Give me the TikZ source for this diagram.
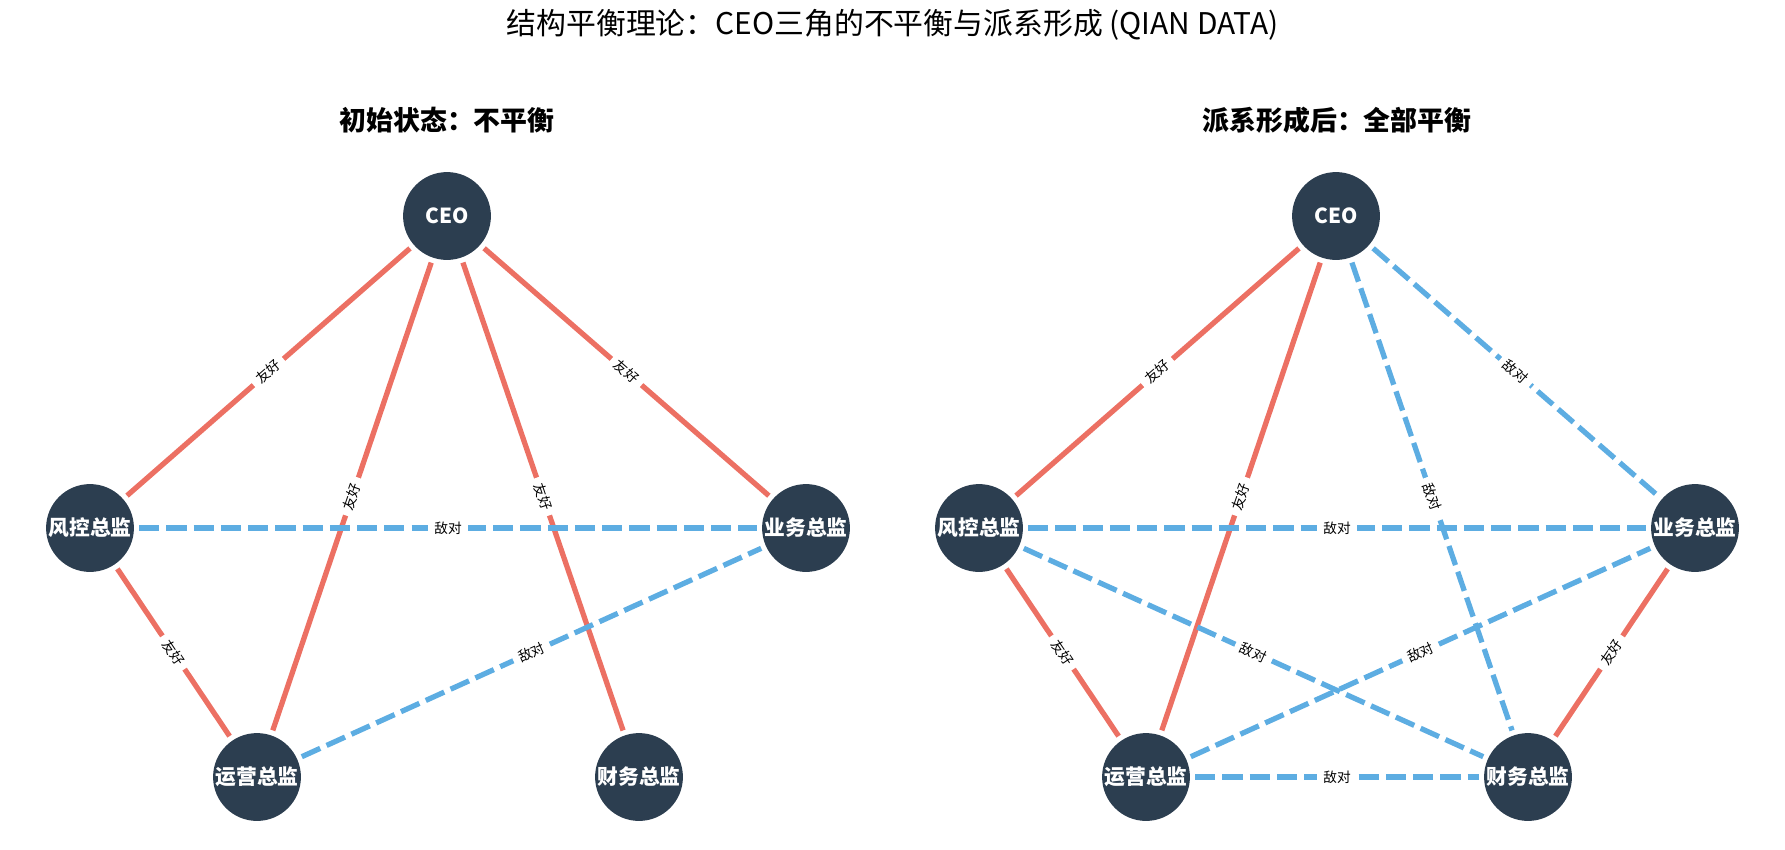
\documentclass[tikz,border=0pt]{standalone}
\usepackage{fontspec}
\setmainfont{Noto Sans CJK SC}
\definecolor{nodebg}{HTML}{2C3E50}
\definecolor{friend}{HTML}{EC7063}
\definecolor{enemy}{HTML}{5DADE2}
\pgfdeclarelayer{edges}
\pgfdeclarelayer{labels}
\pgfsetlayers{edges,labels,main}
\begin{document}
\begin{tikzpicture}[x=0.02cm,y=-0.02cm,
 person/.style={circle,fill=nodebg,minimum size=50pt,inner sep=0pt,outer sep=3pt,text=white,font=\fontsize{11.8}{13}\selectfont\bfseries},
 friendline/.style={draw=friend,line width=3pt},
 enemyline/.style={draw=enemy,line width=3pt,dash pattern=on 11.5pt off 4pt},
 elabel/.style={midway,sloped,fill=white,inner xsep=3.5pt,inner ysep=1pt,font=\fontsize{7.8}{9}\selectfont,text=black},
 titlefont/.style={font=\fontsize{17}{20}\selectfont},
 subfont/.style={font=\fontsize{15.3}{18}\selectfont\bfseries}]
\useasboundingbox (0,0) rectangle (1785,849);

\node[titlefont] (title) at (892.5,25) {结构平衡理论：CEO三角的不平衡与派系形成 (QIAN DATA)};
\node[subfont] (subL) at (447,120) {初始状态：不平衡};
\node[subfont] (subR) at (1337,120) {派系形成后：全部平衡};

% left panel
\node[person] (Lceo) at (447,216) {CEO};
\node[person] (Lfk) at (90,528) {风控总监};
\node[person] (Lyw) at (806,528) {业务总监};
\node[person] (Lyy) at (257,777) {运营总监};
\node[person] (Lcw) at (639,777) {财务总监};

% right panel
\node[person] (Rceo) at (1336,216) {CEO};
\node[person] (Rfk) at (979,528) {风控总监};
\node[person] (Ryw) at (1695,528) {业务总监};
\node[person] (Ryy) at (1146,777) {运营总监};
\node[person] (Rcw) at (1528,777) {财务总监};

\begin{pgfonlayer}{edges}
\draw[friendline] (Lceo) -- (Lfk);
\draw[friendline] (Lceo) -- (Lyy);
\draw[friendline] (Lceo) -- (Lcw);
\draw[friendline] (Lceo) -- (Lyw);
\draw[enemyline] (Lfk) -- (Lyw);
\draw[friendline] (Lfk) -- (Lyy);
\draw[enemyline] (Lyy) -- (Lyw);

\draw[friendline] (Rceo) -- (Rfk);
\draw[friendline] (Rceo) -- (Ryy);
\draw[enemyline] (Rceo) -- (Rcw);
\draw[enemyline] (Rceo) -- (Ryw);
\draw[enemyline] (Rfk) -- (Ryw);
\draw[friendline] (Rfk) -- (Ryy);
\draw[enemyline] (Rfk) -- (Rcw);
\draw[enemyline] (Ryy) -- (Ryw);
\draw[enemyline] (Ryy) -- (Rcw);
\draw[friendline] (Ryw) -- (Rcw);
\end{pgfonlayer}

\begin{pgfonlayer}{labels}
\path (Lceo) -- node[elabel] (l1) {友好} (Lfk);
\path (Lceo) -- node[elabel] (l2) {友好} (Lyy);
\path (Lceo) -- node[elabel] (l3) {友好} (Lcw);
\path (Lceo) -- node[elabel] (l4) {友好} (Lyw);
\path (Lfk) -- node[elabel] (l5) {敌对} (Lyw);
\path (Lfk) -- node[elabel] (l6) {友好} (Lyy);
\path (Lyy) -- node[elabel] (l7) {敌对} (Lyw);

\path (Rceo) -- node[elabel] (r1) {友好} (Rfk);
\path (Rceo) -- node[elabel] (r2) {友好} (Ryy);
\path (Rceo) -- node[elabel] (r3) {敌对} (Rcw);
\path (Rceo) -- node[elabel] (r4) {敌对} (Ryw);
\path (Rfk) -- node[elabel] (r5) {敌对} (Ryw);
\path (Rfk) -- node[elabel] (r6) {友好} (Ryy);
\path (Rfk) -- node[elabel] (r7) {敌对} (Rcw);
\path (Ryy) -- node[elabel] (r8) {敌对} (Ryw);
\path (Ryy) -- node[elabel] (r9) {敌对} (Rcw);
\path (Ryw) -- node[elabel] (r10) {友好} (Rcw);
\end{pgfonlayer}
\end{tikzpicture}
\end{document}
